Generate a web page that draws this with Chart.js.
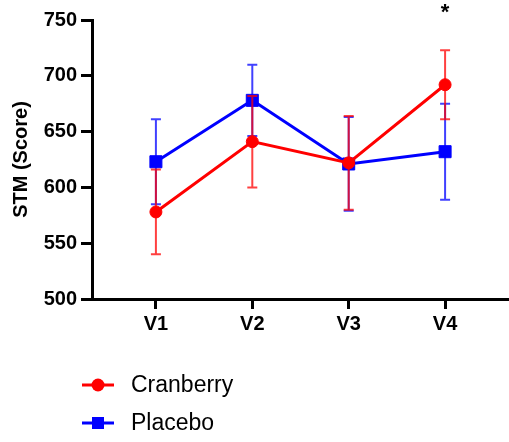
<!DOCTYPE html>
<html>
<head>
<meta charset="utf-8">
<script src="https://cdn.jsdelivr.net/npm/chart.js@4.4.1/dist/chart.umd.min.js"></script>
<style>
  html, body { margin: 0; padding: 0; background: #fff; }
  #wrap { width: 509px; height: 442px; position: relative; }
</style>
</head>
<body>
<div id="wrap"><canvas id="chart"></canvas></div>
<script>
// visits on the x axis
const visits = ['V1', 'V2', 'V3', 'V4']

// group means and error (SEM)
const cranberryMean = [578, 641, 622, 692]
const cranberryErr = [38, 41, 42, 31]
const placeboMean = [623, 678, 621, 632]
const placeboErr = [38, 32, 42, 43]

const yTicks = [500, 550, 600, 650, 700, 750]
const starAt = 3 // significance marker above V4

const FONT = '"Liberation Sans", Arial, sans-serif'

const toPoints = (vals) => vals.map((v, i) => ({ x: i, y: v }))

// draws vertical error bars with caps for each dataset
const errorBars = {
  id: 'errorBars',
  afterDatasetDraw(chart, args) {
    const ds = chart.data.datasets[args.index]
    if (!ds.errors) return
    const { ctx, scales } = chart
    ctx.save()
    ctx.strokeStyle = ds.errorColor
    ctx.lineWidth = 2
    ds.data.forEach((p, i) => {
      const x = scales.x.getPixelForValue(p.x)
      const yHi = scales.y.getPixelForValue(p.y + ds.errors[i])
      const yLo = scales.y.getPixelForValue(p.y - ds.errors[i])
      ctx.beginPath()
      ctx.moveTo(x, yHi); ctx.lineTo(x, yLo)
      ctx.moveTo(x - 5, yHi); ctx.lineTo(x + 5, yHi)
      ctx.moveTo(x - 5, yLo); ctx.lineTo(x + 5, yLo)
      ctx.stroke()
    })
    ctx.restore()
  }
}

// asterisk + legend drawn by hand
const extras = {
  id: 'extras',
  afterDraw(chart) {
    const { ctx, scales } = chart
    ctx.save()
    ctx.fillStyle = '#000'
    ctx.font = 'bold 22px ' + FONT
    ctx.textAlign = 'center'
    ctx.textBaseline = 'alphabetic'
    ctx.fillText('*', scales.x.getPixelForValue(starAt), scales.y.top - 1)

    const rows = [
      { ds: chart.data.datasets[0], y: 385 },
      { ds: chart.data.datasets[1], y: 423 }
    ]
    rows.forEach(({ ds, y }) => {
      ctx.strokeStyle = ds.borderColor
      ctx.fillStyle = ds.borderColor
      ctx.lineWidth = 3
      ctx.beginPath()
      ctx.moveTo(82, y); ctx.lineTo(114, y)
      ctx.stroke()
      if (ds.pointStyle === 'circle') {
        ctx.beginPath()
        ctx.arc(98, y, 6.5, 0, Math.PI * 2)
        ctx.fill()
      } else {
        ctx.fillRect(92, y - 6, 12, 12)
      }
      ctx.fillStyle = '#000'
      ctx.font = '23px ' + FONT
      ctx.textAlign = 'left'
      ctx.textBaseline = 'middle'
      ctx.fillText(ds.label, 131, y + 1)
    })
    ctx.restore()
  }
}

const axisStyle = {
  border: { display: true, color: '#000', width: 3 },
  grid: { display: true, drawOnChartArea: false, drawTicks: true, color: '#000', lineWidth: 3 }
}

new Chart(document.getElementById('chart'), {
  type: 'line',
  data: {
    datasets: [
      {
        label: 'Cranberry',
        data: toPoints(cranberryMean),
        errors: cranberryErr,
        errorColor: 'rgba(255,0,0,0.75)',
        borderColor: '#ff0000',
        backgroundColor: '#ff0000',
        borderWidth: 3,
        pointStyle: 'circle',
        pointRadius: 6,
        pointBorderWidth: 1,
        tension: 0
      },
      {
        label: 'Placebo',
        data: toPoints(placeboMean),
        errors: placeboErr,
        errorColor: 'rgba(0,0,255,0.75)',
        borderColor: '#0000ff',
        backgroundColor: '#0000ff',
        borderWidth: 3,
        pointStyle: 'rect',
        pointRadius: 8.5,
        pointBorderWidth: 1,
        tension: 0
      }
    ]
  },
  options: {
    responsive: true,
    maintainAspectRatio: false,
    animation: false,
    layout: { autoPadding: false, padding: { top: 20, right: 0, left: 0, bottom: 0 } },
    plugins: { legend: { display: false }, tooltip: { enabled: false } },
    scales: {
      x: {
        type: 'linear',
        min: -0.663,
        max: 3.663,
        ...axisStyle,
        grid: { ...axisStyle.grid, tickLength: 10 },
        afterBuildTicks: (scale) => { scale.ticks = visits.map((_, i) => ({ value: i })) },
        afterFit: (scale) => { scale.height = 143 },
        ticks: {
          color: '#000',
          font: { family: FONT, size: 20, weight: 'bold' },
          padding: 3,
          maxRotation: 0,
          callback: (v) => visits[v]
        }
      },
      y: {
        min: 500,
        max: 750,
        ...axisStyle,
        grid: { ...axisStyle.grid, tickLength: 11 },
        afterBuildTicks: (scale) => { scale.ticks = yTicks.map((v) => ({ value: v })) },
        afterFit: (scale) => { scale.width = 92 },
        title: {
          display: true,
          text: 'STM (Score)',
          color: '#000',
          font: { family: FONT, size: 20, weight: 'bold' },
          padding: { top: 9, bottom: 0 }
        },
        ticks: {
          color: '#000',
          font: { family: FONT, size: 20, weight: 'bold' },
          padding: 4
        }
      }
    }
  },
  plugins: [errorBars, extras]
})
</script>
</body>
</html>
